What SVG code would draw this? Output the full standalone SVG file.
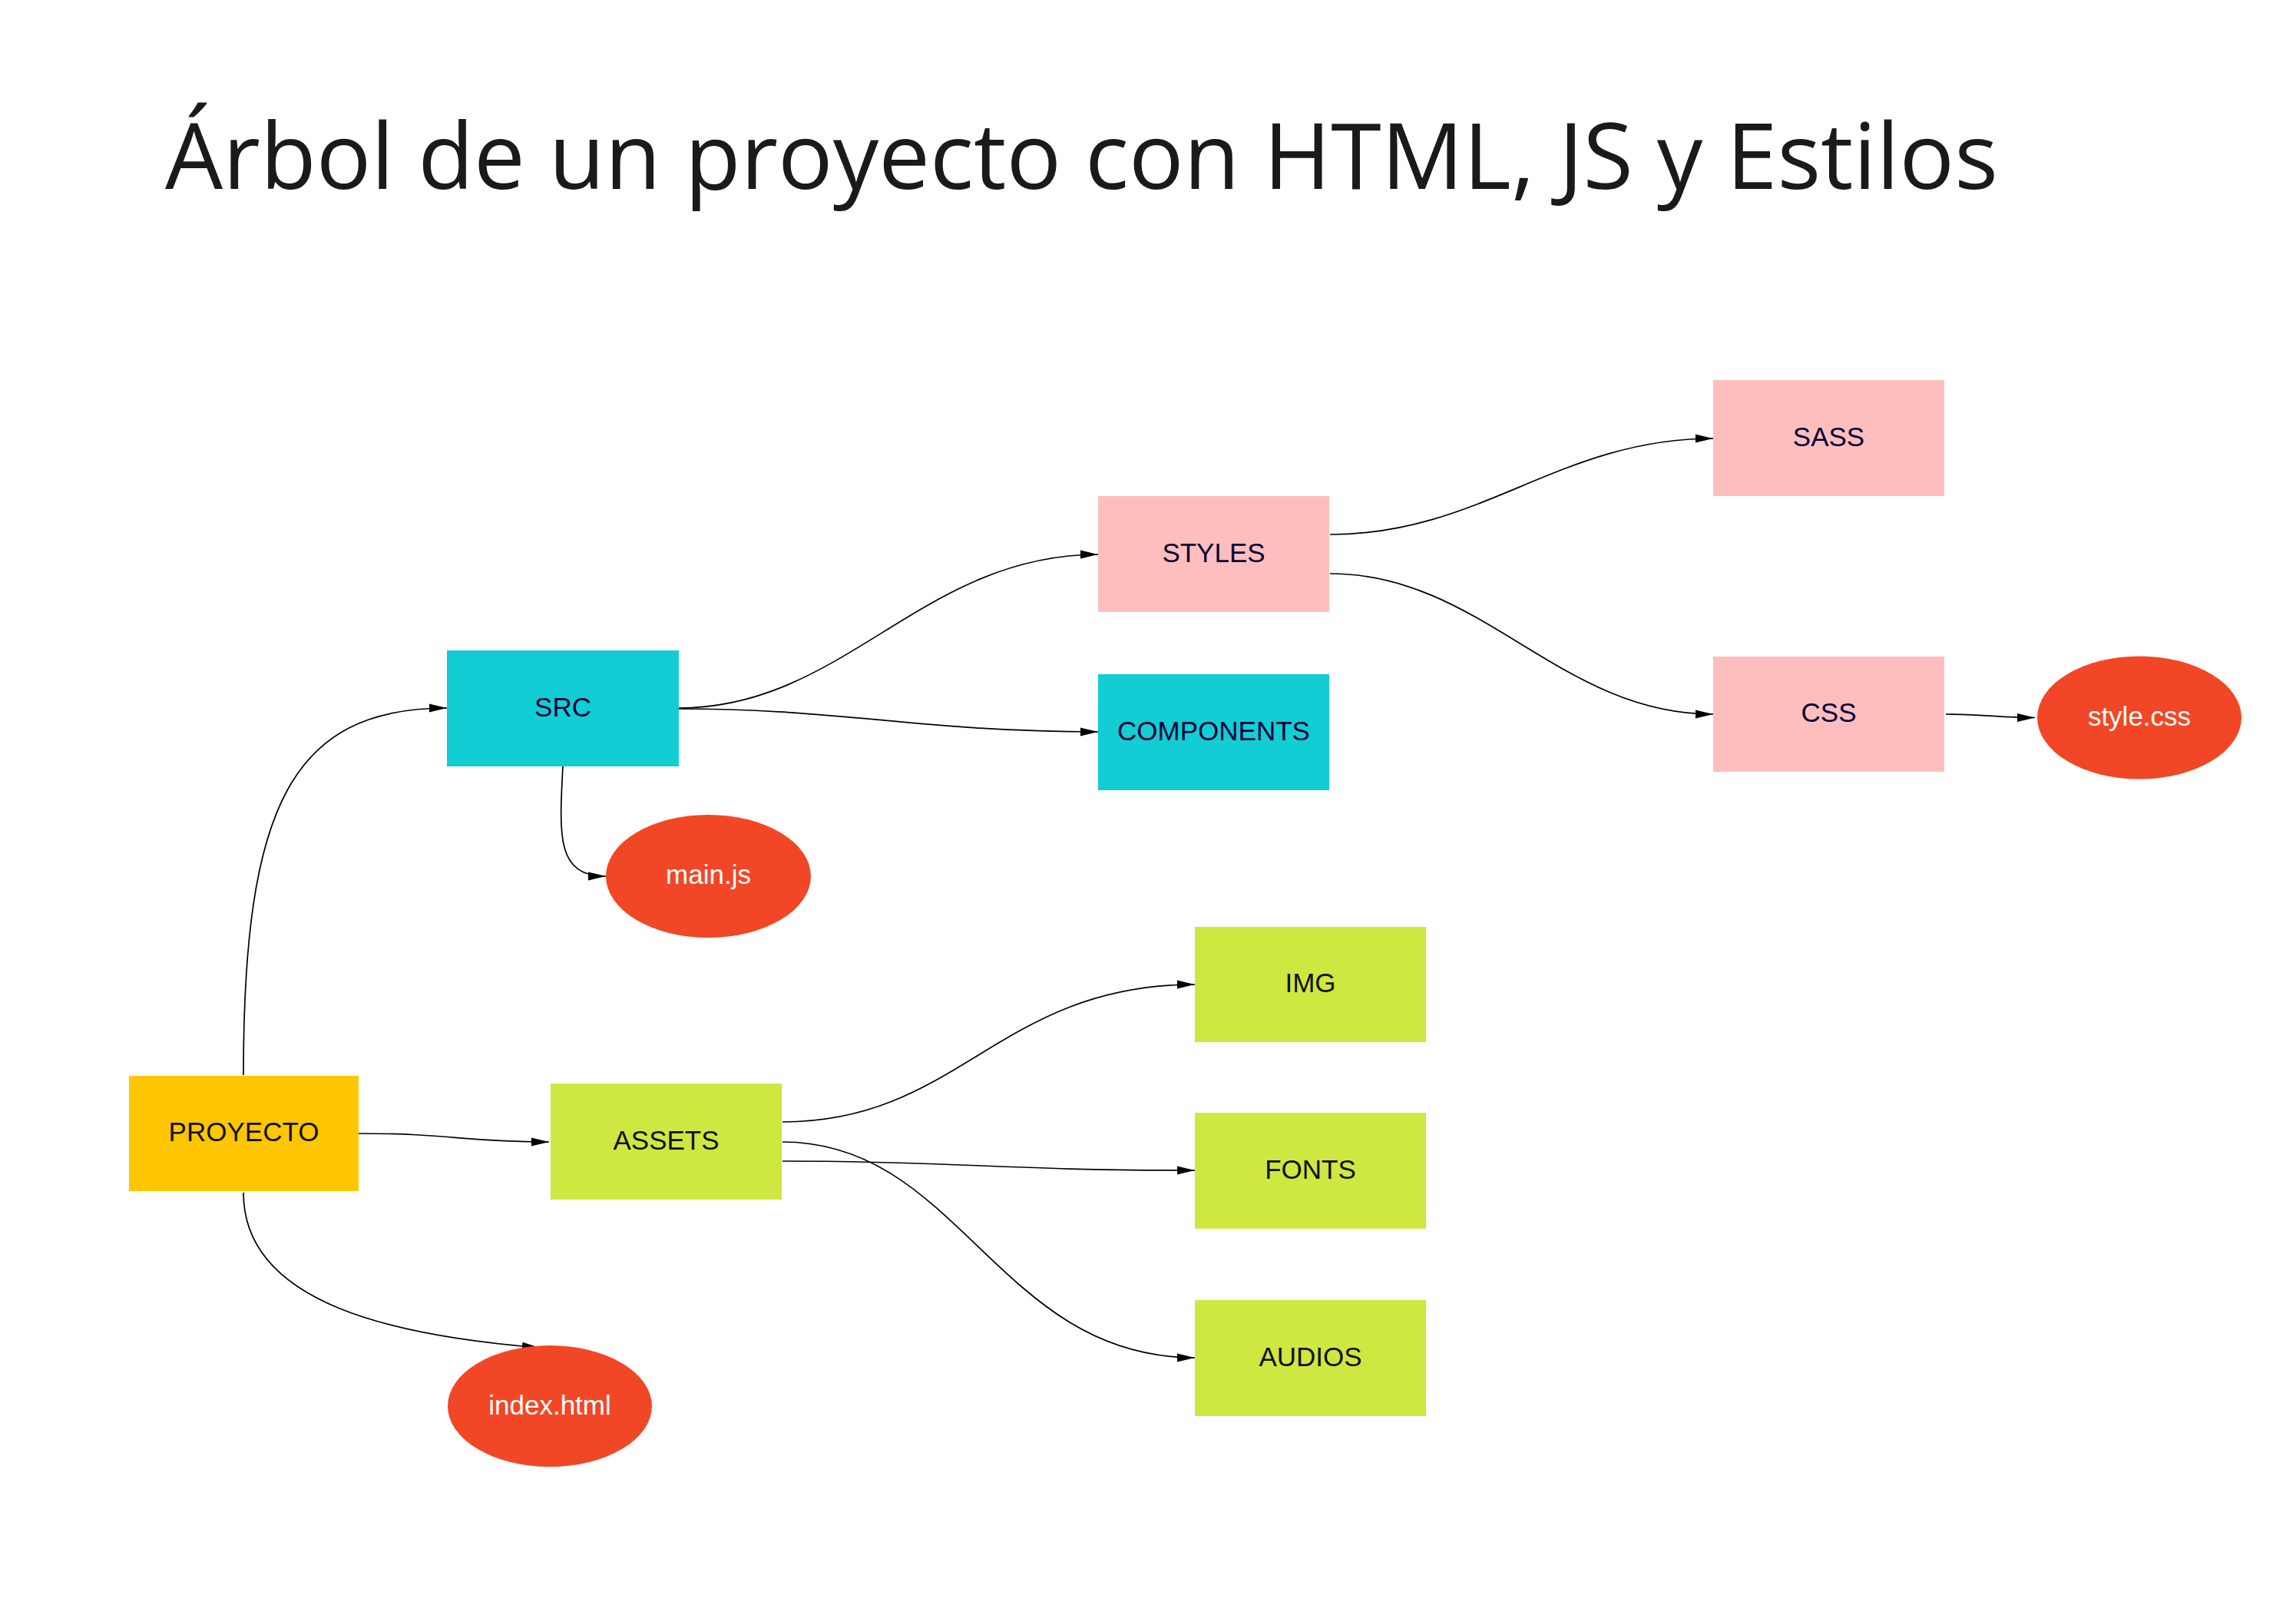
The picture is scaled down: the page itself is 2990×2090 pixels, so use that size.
<svg xmlns="http://www.w3.org/2000/svg" width="2990" height="2090" viewBox="0 0 2990 2090">
  <style>
    .title { font-family: "Open Sans", "Noto Sans", sans-serif; font-size: 119px; fill: #1a1a1a; }
    .lbl { font-family: "Liberation Sans", Arial, sans-serif; font-size: 35px; text-anchor: middle; }
    .dark { fill: #050038; }
    .black { fill: #111111; }
    .white { fill: #ffffff; }
    .yellow { fill: #FEC600; }
    .cyan { fill: #12CDD4; }
    .pink { fill: #FFBEBE; }
    .lime { fill: #CEE741; }
    .red { fill: #F24726; }
    .edge { fill: none; stroke: #000000; stroke-width: 1.7; marker-end: url(#arrow); }
  </style>
  <defs>
    <marker id="arrow" markerUnits="userSpaceOnUse" markerWidth="24" markerHeight="12" refX="23" refY="6" orient="auto">
      <path d="M0,0.5 L23,6 L0,11.5 Z" fill="#000000"/>
    </marker>
  </defs>

  <rect width="2990" height="2090" fill="#ffffff"/>

  <text class="title" x="215" y="246">Árbol de un proyecto con HTML, JS y Estilos</text>

  <g id="connectors">
    <path class="edge" d="M317,1400 C317,1050 380,922 582,922"/>
    <path class="edge" d="M733,998 C728,1090 725,1141 789,1141"/>
    <path class="edge" d="M467,1476 C590,1476 600,1487 715,1487"/>
    <path class="edge" d="M317,1553 C317,1700 520,1740 703,1755"/>
    <path class="edge" d="M884,922 C1100,922 1200,722 1430,722"/>
    <path class="edge" d="M884,923 C1100,923 1200,953 1430,953"/>
    <path class="edge" d="M1732,696 C1930,696 2030,571 2231,571"/>
    <path class="edge" d="M1732,747 C1930,747 2030,930 2231,930"/>
    <path class="edge" d="M2534,930 C2590,930 2600,934.5 2650,934.5"/>
    <path class="edge" d="M1019,1461 C1250,1461 1300,1282 1556,1282"/>
    <path class="edge" d="M1019,1512 C1250,1512 1300,1524 1556,1524"/>
    <path class="edge" d="M1019,1487 C1250,1487 1300,1768 1556,1768"/>
  </g>

  <g id="proyecto">
    <rect class="yellow" x="168" y="1401" width="299" height="150"/>
    <text class="lbl black" x="317.5" y="1486">PROYECTO</text>
  </g>
  <g id="src">
    <rect class="cyan" x="582" y="847" width="302" height="151"/>
    <text class="lbl dark" x="733" y="933">SRC</text>
  </g>
  <g id="assets">
    <rect class="lime" x="717" y="1411" width="301" height="151"/>
    <text class="lbl black" x="867.5" y="1497">ASSETS</text>
  </g>
  <g id="styles">
    <rect class="pink" x="1430" y="646" width="301" height="151"/>
    <text class="lbl dark" x="1580.5" y="732">STYLES</text>
  </g>
  <g id="components">
    <rect class="cyan" x="1430" y="878" width="301" height="151"/>
    <text class="lbl dark" x="1580.5" y="964">COMPONENTS</text>
  </g>
  <g id="sass">
    <rect class="pink" x="2231" y="495" width="301" height="151"/>
    <text class="lbl dark" x="2381.5" y="581">SASS</text>
  </g>
  <g id="css">
    <rect class="pink" x="2231" y="855" width="301" height="150"/>
    <text class="lbl dark" x="2381.5" y="940">CSS</text>
  </g>
  <g id="img">
    <rect class="lime" x="1556" y="1207" width="301" height="150"/>
    <text class="lbl black" x="1706.5" y="1292">IMG</text>
  </g>
  <g id="fonts">
    <rect class="lime" x="1556" y="1449" width="301" height="151"/>
    <text class="lbl black" x="1706.5" y="1535">FONTS</text>
  </g>
  <g id="audios">
    <rect class="lime" x="1556" y="1693" width="301" height="151"/>
    <text class="lbl black" x="1706.5" y="1779">AUDIOS</text>
  </g>
  <g id="main-js">
    <ellipse class="red" cx="922.5" cy="1141" rx="133.5" ry="80"/>
    <text class="lbl white" x="922.5" y="1151">main.js</text>
  </g>
  <g id="style-css">
    <ellipse class="red" cx="2786" cy="934.5" rx="133" ry="80"/>
    <text class="lbl white" x="2786" y="945">style.css</text>
  </g>
  <g id="index-html">
    <ellipse class="red" cx="716" cy="1831" rx="133" ry="79"/>
    <text class="lbl white" x="716" y="1842">index.html</text>
  </g>
</svg>
